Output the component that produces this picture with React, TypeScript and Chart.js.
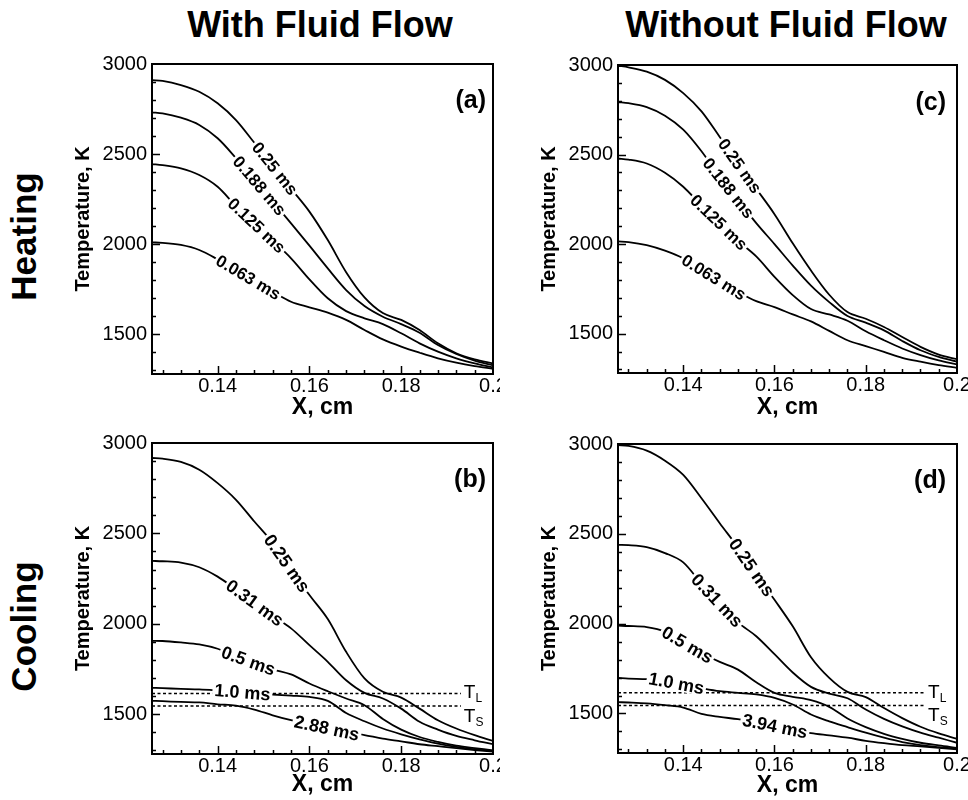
import React, { useEffect, useRef } from "react";
import { Chart, registerables } from "chart.js";

Chart.register(...registerables);

const FONT = "'Liberation Sans', Arial, Helvetica, sans-serif";

// ---------- shared axes ----------
const xPos = [0.1257, 0.128, 0.132, 0.136, 0.14, 0.144, 0.148, 0.152, 0.156, 0.16, 0.164, 0.168, 0.172, 0.176, 0.18, 0.184, 0.188, 0.192, 0.196, 0.2];
const xMin = 0.1257;
const xMax = 0.2;
const yMin = 1280;
const yMax = 3000;
const xTickValues = [0.14, 0.16, 0.18, 0.2];
const xTickLabels = ["0.14", "0.16", "0.18", "0.2"];
const yTickValues = [1500, 2000, 2500, 3000];
const yTickLabels = ["1500", "2000", "2500", "3000"];
const xAxisTitle = "X, cm";
const yAxisTitle = "Temperature, K";

const columnTitles = ["With Fluid Flow", "Without Fluid Flow"];
const rowTitles = ["Heating", "Cooling"];

// liquidus / solidus temperatures (cooling panels)
const liquidusT = 1615;
const solidusT = 1545;
const phaseLineX = [0.1257, 0.193];

// ---------- (a) heating, with fluid flow ----------
const aNames = ["0.25 ms", "0.188 ms", "0.125 ms", "0.063 ms"];
const aLabelX = [0.1525, 0.1491, 0.1485, 0.1467];
const a025 = [2911, 2906, 2883, 2846, 2782, 2689, 2563, 2436, 2308, 2181, 2023, 1845, 1705, 1618, 1580, 1524, 1450, 1395, 1361, 1339];
const a0188 = [2732, 2726, 2702, 2662, 2588, 2478, 2358, 2238, 2116, 1992, 1866, 1746, 1657, 1598, 1557, 1509, 1441, 1391, 1354, 1328];
const a0125 = [2445, 2439, 2421, 2384, 2319, 2212, 2116, 2020, 1922, 1805, 1700, 1629, 1589, 1557, 1506, 1450, 1404, 1367, 1339, 1317];
const a0063 = [2010, 2008, 1996, 1968, 1916, 1857, 1796, 1737, 1681, 1650, 1620, 1580, 1524, 1472, 1432, 1398, 1367, 1343, 1324, 1309];

// ---------- (b) cooling, with fluid flow ----------
const bNames = ["0.25 ms", "0.31 ms", "0.5 ms", "1.0 ms", "2.88 ms"];
const bLabelX = [0.1551, 0.1481, 0.1467, 0.1454, 0.1638];
const b025 = [2917, 2913, 2895, 2852, 2778, 2686, 2566, 2448, 2302, 2159, 2026, 1845, 1698, 1624, 1592, 1531, 1467, 1421, 1384, 1352];
const b031 = [2348, 2346, 2339, 2313, 2261, 2191, 2117, 2043, 1975, 1882, 1790, 1688, 1618, 1587, 1531, 1458, 1415, 1380, 1356, 1334];
const b05 = [1906, 1905, 1897, 1886, 1862, 1820, 1783, 1748, 1720, 1670, 1627, 1587, 1550, 1474, 1415, 1374, 1347, 1326, 1313, 1300];
const b10 = [1646, 1644, 1640, 1637, 1631, 1624, 1616, 1609, 1603, 1596, 1574, 1507, 1461, 1421, 1389, 1361, 1337, 1319, 1306, 1297];
const b288 = [1574, 1572, 1568, 1565, 1555, 1548, 1526, 1494, 1467, 1445, 1422, 1402, 1385, 1365, 1350, 1334, 1323, 1312, 1302, 1293];

// ---------- (c) heating, without fluid flow ----------
const cNames = ["0.25 ms", "0.188 ms", "0.125 ms", "0.063 ms"];
const cLabelX = [0.1524, 0.1499, 0.1478, 0.1467];
const c025 = [2996, 2987, 2963, 2917, 2843, 2741, 2598, 2450, 2309, 2167, 2004, 1852, 1717, 1620, 1583, 1537, 1481, 1426, 1383, 1357];
const c0188 = [2793, 2787, 2765, 2717, 2639, 2518, 2374, 2246, 2117, 2000, 1880, 1768, 1676, 1598, 1561, 1518, 1459, 1407, 1370, 1343];
const c0125 = [2478, 2472, 2450, 2398, 2320, 2215, 2117, 2018, 1931, 1817, 1715, 1637, 1607, 1572, 1513, 1463, 1417, 1380, 1350, 1328];
const c0063 = [2015, 2011, 1994, 1963, 1920, 1857, 1794, 1733, 1681, 1648, 1607, 1568, 1515, 1463, 1430, 1398, 1365, 1343, 1324, 1309];

// ---------- (d) cooling, without fluid flow ----------
const dNames = ["0.25 ms", "0.31 ms", "0.5 ms", "1.0 ms", "3.94 ms"];
const dLabelX = [0.155, 0.1474, 0.1409, 0.1385, 0.1601];
const d025 = [2994, 2989, 2963, 2907, 2828, 2698, 2559, 2424, 2276, 2133, 1985, 1813, 1698, 1620, 1591, 1530, 1474, 1426, 1389, 1359];
const d031 = [2439, 2437, 2426, 2393, 2341, 2222, 2113, 2007, 1930, 1830, 1728, 1648, 1611, 1585, 1522, 1470, 1428, 1393, 1365, 1337];
const d05 = [1989, 1987, 1981, 1956, 1896, 1837, 1787, 1744, 1674, 1615, 1593, 1574, 1537, 1472, 1424, 1387, 1359, 1337, 1322, 1309];
const d10 = [1698, 1694, 1691, 1680, 1661, 1641, 1624, 1615, 1606, 1587, 1550, 1494, 1456, 1424, 1393, 1365, 1341, 1324, 1313, 1304];
const d394 = [1563, 1561, 1556, 1546, 1533, 1498, 1481, 1468, 1450, 1430, 1409, 1391, 1378, 1365, 1348, 1335, 1324, 1317, 1309, 1300];

type PanelDef = {
  left: number; top: number; width: number; height: number;
  yw: number; xh: number; padTop: number; padRight: number;
  letter: string; letterInset: number; letterDrop: number;
  names: string[]; series: number[][]; labelX: number[]; labelSize: number;
  phase: boolean; yTitlePad: number; xTitlePad: number; xTickPad: number;
};

const panels: PanelDef[] = [
  { left: 50, top: 45, width: 450, height: 390, yw: 102, xh: 61, padTop: 19, padRight: 7, letter: "(a)", letterInset: 7, letterDrop: 44,
    names: aNames, series: [a025, a0188, a0125, a0063], labelX: aLabelX, labelSize: 17, phase: false, yTitlePad: 21, xTitlePad: 14, xTickPad: 0 },
  { left: 50, top: 425, width: 450, height: 375, yw: 102, xh: 46, padTop: 18, padRight: 7, letter: "(b)", letterInset: 7, letterDrop: 44,
    names: bNames, series: [b025, b031, b05, b10, b288], labelX: bLabelX, labelSize: 18, phase: true, yTitlePad: 21, xTitlePad: 1.5, xTickPad: 0 },
  { left: 515, top: 45, width: 453, height: 390, yw: 103, xh: 62, padTop: 20, padRight: 11, letter: "(c)", letterInset: 11, letterDrop: 45,
    names: cNames, series: [c025, c0188, c0125, c0063], labelX: cLabelX, labelSize: 17, phase: false, yTitlePad: 22, xTitlePad: 14, xTickPad: 0 },
  { left: 515, top: 425, width: 453, height: 375, yw: 103, xh: 47, padTop: 19, padRight: 11, letter: "(d)", letterInset: 11, letterDrop: 44,
    names: dNames, series: [d025, d031, d05, d10, d394], labelX: dLabelX, labelSize: 18, phase: true, yTitlePad: 22, xTitlePad: 1, xTickPad: 0 },
];

function interp(xs: number[], ys: number[], v: number) {
  for (let i = 0; i < xs.length - 1; i++) {
    if (v >= xs[i] && v <= xs[i + 1]) {
      const t = (v - xs[i]) / (xs[i + 1] - xs[i]);
      return ys[i] + t * (ys[i + 1] - ys[i]);
    }
  }
  return ys[ys.length - 1];
}

function makeDecor(p: PanelDef) {
  return {
    id: "decor",
    afterDatasetsDraw(chart: any) {
      const { ctx, chartArea: ca } = chart;
      const xs = chart.scales.x;
      const ys = chart.scales.y;
      ctx.save();

      // inline curve labels
      p.labelX.forEach((lx, i) => {
        const ser = p.series[i];
        const d = 0.002;
        const cx = xs.getPixelForValue(lx);
        const cy = ys.getPixelForValue(interp(xPos, ser, lx));
        const x1 = xs.getPixelForValue(lx - d);
        const y1 = ys.getPixelForValue(interp(xPos, ser, lx - d));
        const x2 = xs.getPixelForValue(lx + d);
        const y2 = ys.getPixelForValue(interp(xPos, ser, lx + d));
        const ang = Math.atan2(y2 - y1, x2 - x1);
        ctx.save();
        ctx.translate(cx, cy);
        ctx.rotate(ang);
        ctx.font = `bold ${p.labelSize}px ${FONT}`;
        const w = ctx.measureText(p.names[i]).width;
        ctx.fillStyle = "#ffffff";
        ctx.fillRect(-w / 2 - 2, -p.labelSize * 0.42, w + 4, p.labelSize * 0.84);
        ctx.fillStyle = "#000000";
        ctx.textAlign = "center";
        ctx.textBaseline = "middle";
        ctx.fillText(p.names[i], 0, 1);
        ctx.restore();
      });

      // T_L / T_S labels
      if (p.phase) {
        const xp = xs.getPixelForValue(phaseLineX[1]) + 3;
        const items: [string, number, number][] = [["L", liquidusT, 5], ["S", solidusT, 16]];
        items.forEach(([sub, t, dy]) => {
          const yp = ys.getPixelForValue(t) + dy;
          ctx.fillStyle = "#000";
          ctx.textAlign = "left";
          ctx.textBaseline = "alphabetic";
          ctx.font = `19px ${FONT}`;
          ctx.fillText("T", xp, yp);
          const wT = ctx.measureText("T").width;
          ctx.font = `12px ${FONT}`;
          ctx.fillText(sub, xp + wT, yp + 4);
        });
      }

      // inward tick marks
      ctx.strokeStyle = "#000";
      ctx.lineWidth = 1.5;
      ctx.beginPath();
      for (let v = 1300; v < yMax; v += 100) {
        const major = yTickValues.includes(v);
        const py = Math.round(ys.getPixelForValue(v)) + 0.5;
        ctx.moveTo(ca.left, py);
        ctx.lineTo(ca.left + (major ? 8 : 4), py);
      }
      for (let k = 0; k < 19; k++) {
        const v = 0.128 + k * 0.004;
        if (v > xMax - 0.001) break;
        const major = xTickValues.some((t) => Math.abs(t - v) < 1e-6);
        const px = Math.round(xs.getPixelForValue(v)) + 0.5;
        ctx.moveTo(px, ca.bottom);
        ctx.lineTo(px, ca.bottom - (major ? 8 : 4));
      }
      ctx.stroke();

      // frame
      ctx.lineWidth = 2;
      ctx.strokeRect(ca.left, ca.top, ca.right - ca.left, ca.bottom - ca.top);

      // panel letter
      ctx.font = `bold 25px ${FONT}`;
      ctx.textAlign = "right";
      ctx.textBaseline = "alphabetic";
      ctx.fillStyle = "#000";
      ctx.fillText(p.letter, ca.right - p.letterInset, ca.top + p.letterDrop);

      ctx.restore();
    },
  };
}

function Panel({ p }: { p: PanelDef }) {
  const ref = useRef<HTMLCanvasElement>(null);
  useEffect(() => {
    if (!ref.current) return;
    const datasets: any[] = p.series.map((ser, i) => ({
      label: p.names[i],
      data: xPos.map((x, j) => ({ x, y: ser[j] })),
      borderColor: "#000",
      borderWidth: 1.8,
      pointRadius: 0,
      cubicInterpolationMode: "monotone",
      fill: false,
    }));
    if (p.phase) {
      [liquidusT, solidusT].forEach((t, i) => {
        datasets.push({
          label: i === 0 ? "T_L" : "T_S",
          data: phaseLineX.map((x) => ({ x, y: t })),
          borderColor: "#000",
          borderWidth: 1.5,
          borderDash: [3, 2.5],
          pointRadius: 0,
          fill: false,
        });
      });
    }
    const chart = new Chart(ref.current, {
      type: "line",
      data: { datasets },
      plugins: [makeDecor(p)],
      options: {
        responsive: false,
        animation: false,
        devicePixelRatio: 1,
        layout: { padding: { top: p.padTop, right: p.padRight, left: 0, bottom: 0 } },
        plugins: { legend: { display: false }, tooltip: { enabled: false } },
        scales: {
          x: {
            type: "linear",
            min: xMin,
            max: xMax,
            grid: { display: false, drawTicks: false },
            border: { display: false },
            afterBuildTicks: (s: any) => { s.ticks = xTickValues.map((v) => ({ value: v })); },
            afterFit: (s: any) => { s.height = p.xh; s.paddingLeft = 0; s.paddingRight = 0; },
            ticks: {
              callback: (_v: any, i: number) => xTickLabels[i],
              font: { family: FONT, size: 20 },
              color: "#000",
              padding: p.xTickPad,
              maxRotation: 0,
              autoSkip: false,
            },
            title: {
              display: true,
              text: xAxisTitle,
              font: { family: FONT, size: 23, weight: "bold" },
              color: "#000",
              padding: { top: 0, bottom: p.xTitlePad },
            },
          },
          y: {
            type: "linear",
            min: yMin,
            max: yMax,
            grid: { display: false, drawTicks: false },
            border: { display: false },
            afterBuildTicks: (s: any) => { s.ticks = yTickValues.map((v) => ({ value: v })); },
            afterFit: (s: any) => { s.width = p.yw; s.paddingTop = 0; s.paddingBottom = 0; },
            ticks: {
              callback: (_v: any, i: number) => yTickLabels[i],
              font: { family: FONT, size: 20 },
              color: "#000",
              padding: 5,
              autoSkip: false,
            },
            title: {
              display: true,
              text: yAxisTitle,
              font: { family: FONT, size: 20, weight: "bold" },
              color: "#000",
              padding: { top: p.yTitlePad, bottom: 0 },
            },
          },
        },
      } as any,
    });
    return () => chart.destroy();
  }, [p]);
  return (
    <canvas
      ref={ref}
      width={p.width}
      height={p.height}
      style={{ position: "absolute", left: p.left, top: p.top, width: p.width, height: p.height }}
    />
  );
}

const colCenters = [320, 786];
const rowCenters = [236, 626];

export default function App() {
  return (
    <div style={{ position: "absolute", left: 0, top: 0, width: 968, height: 800, background: "#fff", overflow: "hidden", fontFamily: FONT }}>
      {columnTitles.map((t, i) => (
        <div
          key={t}
          style={{
            position: "absolute", left: colCenters[i] - 220, top: 7, width: 440, textAlign: "center",
            fontSize: 36, lineHeight: "36px", fontWeight: "bold", color: "#000", whiteSpace: "nowrap",
          }}
        >
          {t}
        </div>
      ))}
      {rowTitles.map((t, i) => (
        <div
          key={t}
          style={{
            position: "absolute", left: 23 - 100, top: rowCenters[i] - 17.5, width: 200, height: 35, textAlign: "center",
            fontSize: 35, lineHeight: "35px", fontWeight: "bold", color: "#000", whiteSpace: "nowrap",
            transform: "rotate(-90deg)", transformOrigin: "50% 50%",
          }}
        >
          {t}
        </div>
      ))}
      {panels.map((p) => (
        <Panel key={p.letter} p={p} />
      ))}
    </div>
  );
}
